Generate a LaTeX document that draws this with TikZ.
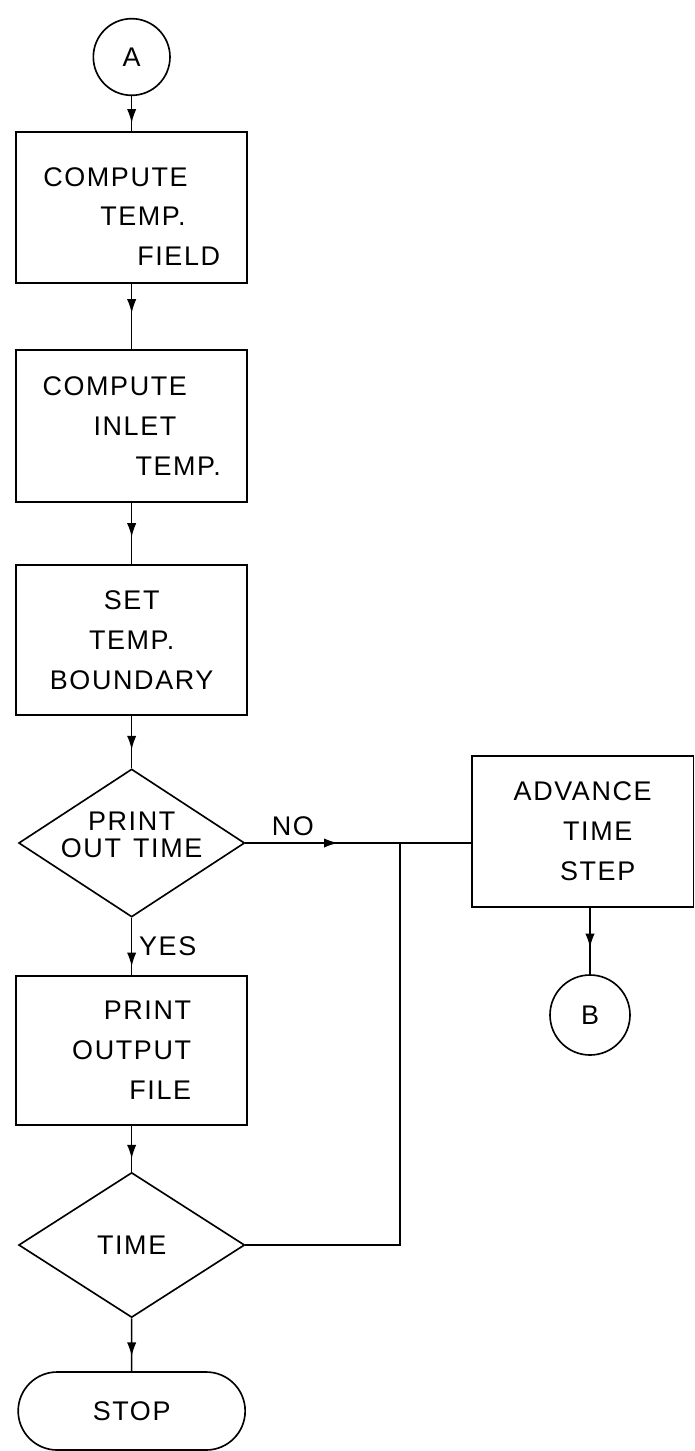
\documentclass[tikz,border=0pt]{standalone}
\usepackage{fontspec}
\setmainfont{Liberation Sans}[LetterSpace=6]
\usetikzlibrary{arrows.meta,decorations.markings,shapes.geometric,shapes.misc}

\begin{document}
\begin{tikzpicture}[
  line width=1.4pt,
  every node/.style={font=\fontsize{23}{34}\selectfont},
  procbox/.style={draw,rectangle,minimum width=6.93cm,minimum height=4.5cm,inner sep=0pt},
  decision/.style={draw,diamond,aspect=1.5,minimum width=6.78cm,minimum height=4.44cm,
    inner sep=-0.3cm,align=center,font=\fontsize{23}{23}\selectfont},
  connector/.style={draw,circle,minimum size=2.3cm,inner sep=0pt},
  terminal/.style={draw,rounded rectangle,minimum width=6.81cm,minimum height=2.34cm,inner sep=0pt},
  flowarrow/.style={postaction={decorate},decoration={markings,
    mark=at position #1 with {\arrow{Latex[length=4.2mm,width=2.8mm]}}}}
]
  \useasboundingbox (0,0) rectangle (20.85,-43.53);

  % main column
  \node[connector] (A) at (3.95,-1.71) {A};
  \node[procbox,align=left,minimum height=4.53cm] (field) at (3.95,-6.225)
    {\rule{0pt}{1.1cm}COMPUTE\\\hspace*{1.71cm}TEMP.\\\hspace*{2.82cm}FIELD};
  \node[procbox,align=left,minimum height=4.56cm] (inlet) at (3.95,-12.78)
    {COMPUTE\\\hspace*{1.53cm}INLET\\\hspace*{2.79cm}TEMP.};
  \node[procbox,align=center] (bound) at (3.95,-19.2)
    {SET\\TEMP.\\BOUNDARY};
  \node[decision] (printq) at (3.95,-25.29)
    {PRINT\\OUT\hspace{0.45em}TIME\rule[-0.5cm]{0pt}{0pt}};
  \node[procbox,align=right,minimum height=4.47cm] (output) at (3.95,-31.515)
    {PRINT\\OUTPUT\\FILE};
  \node[decision,minimum height=4.35cm] (timeq) at (3.95,-37.35) {TIME};
  \node[terminal] (stop) at (3.95,-42.33) {STOP};

  % right branch
  \node[procbox,align=center,minimum width=6.64cm,minimum height=4.53cm] (advance) at (17.48,-24.945)
    {ADVANCE\\\hspace*{0.9cm}TIME\\\hspace*{0.9cm}STEP};
  \node[connector,minimum size=2.4cm] (B) at (17.7,-30.45) {B};
  \coordinate (join) at (12,-25.29);

  \draw[flowarrow=0.77] (A) -- (field);
  \draw[flowarrow=0.45] (field) -- (inlet);
  \draw[flowarrow=0.56] (inlet) -- (bound);
  \draw[flowarrow=0.65] (bound) -- (printq);
  \draw[flowarrow=0.85] (printq) -- node[pos=0.5,anchor=west,inner sep=0pt,xshift=0.2cm] {YES} (output);
  \draw[flowarrow=0.72] (output) -- (timeq);
  \draw[flowarrow=0.72] (timeq) -- (stop);
  \draw[flowarrow=0.41] (printq.east) -- node[pos=0.21,anchor=south,inner sep=0pt,yshift=0.2cm] {NO}
    (printq.east -| advance.west);
  \draw (timeq.east) -| (join);
  \draw[flowarrow=0.6] (advance.south -| B.north) -- (B);
\end{tikzpicture}
\end{document}
